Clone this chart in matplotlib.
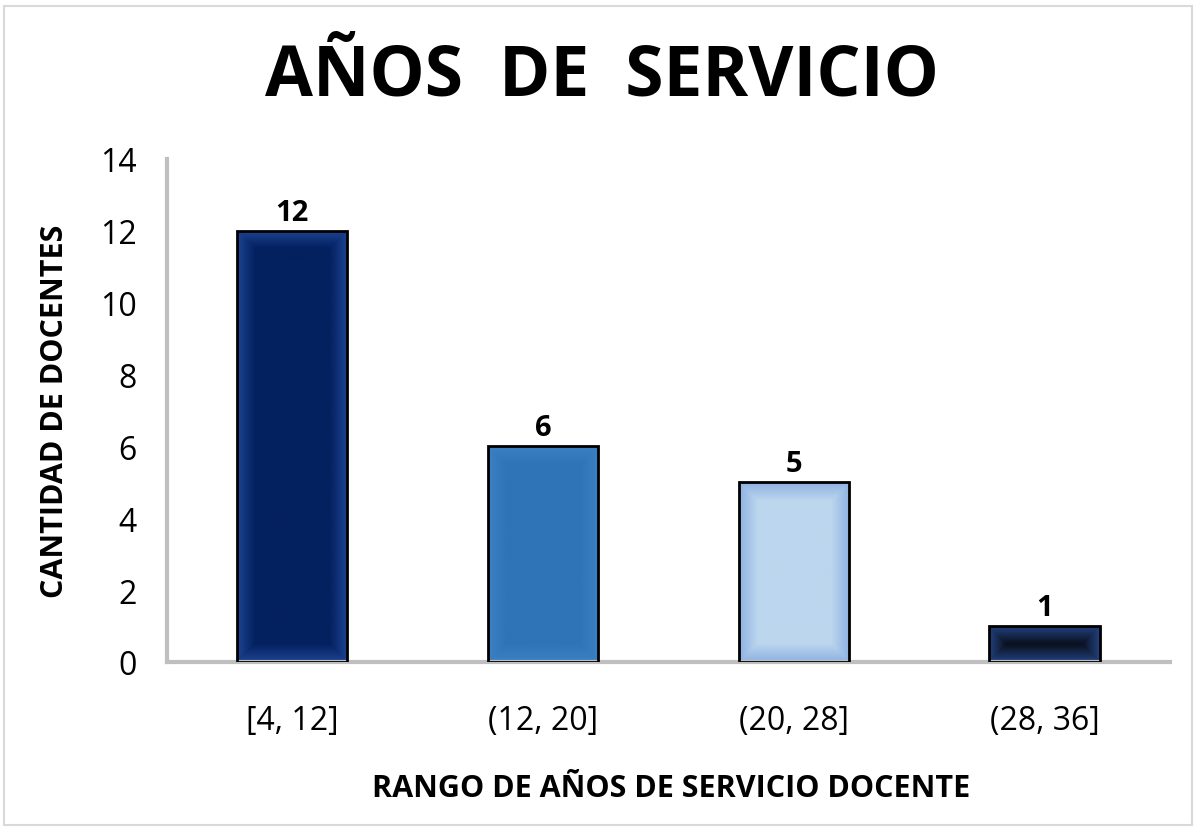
import numpy as np
import matplotlib
matplotlib.use('Agg')
from matplotlib import pyplot as plt
from matplotlib.patches import Rectangle

categories = ['[4, 12]', '(12, 20]', '(20, 28]', '(28, 36]']
values = [12, 6, 5, 1]
center_colors = ['#03205f', '#2e74b6', '#bcd6ee', '#080d18']
edge_colors = ['#1d4391', '#3a80c2', '#8eb1e2', '#22417e']

plt.rcParams['font.family'] = ['Open Sans', 'DejaVu Sans']


def hex_rgb(h):
    return np.array([int(h[i:i + 2], 16) / 255 for i in (1, 3, 5)])


def glow(center, edge, w_px, h_px):
    # colour goes from edge colour at the border to centre colour inside
    ys, xs = np.mgrid[0:h_px, 0:w_px]
    d = np.minimum(np.minimum(xs, w_px - 1 - xs), np.minimum(ys, h_px - 1 - ys))
    t = np.clip(d / 18.0, 0, 1)[..., None]
    c, e = hex_rgb(center), hex_rgb(edge)
    return e * (1 - t) + c * t


fig = plt.figure(figsize=(11.96, 8.28), dpi=100)
ax = fig.add_axes([0.1396, 0.1993, 0.8385, 0.6075])

width = 0.44
x = np.arange(len(categories))
bars = ax.bar(x, values, width=width, color='none', edgecolor='black',
              linewidth=2, zorder=3)

px_per_unit_y = 0.6075 * 828 / 14
px_per_unit_x = 0.8385 * 1196 / 4
for b, cc, ec in zip(bars, center_colors, edge_colors):
    x0, y0 = b.get_x(), b.get_y()
    w, h = b.get_width(), b.get_height()
    img = glow(cc, ec, int(w * px_per_unit_x), max(int(h * px_per_unit_y), 2))
    im = ax.imshow(img, extent=(x0, x0 + w, y0, y0 + h), aspect='auto',
                   origin='lower', zorder=2, interpolation='bilinear')
    im.set_clip_path(b)
    ax.text(x0 + w / 2, h + 0.12, str(int(h)), ha='center', va='bottom',
            fontsize=21, fontweight='bold')

ax.set_xlim(-0.5, 3.5)
ax.set_ylim(0, 14)
ax.set_yticks(range(0, 15, 2))
ax.set_xticks(x)
ax.set_xticklabels(categories)
ax.tick_params(axis='both', length=0, labelsize=23)
ax.tick_params(axis='x', pad=30)
ax.tick_params(axis='y', pad=22)

for s in ('top', 'right'):
    ax.spines[s].set_visible(False)
for s in ('left', 'bottom'):
    ax.spines[s].set_color('#bfbfbf')
    ax.spines[s].set_linewidth(3)

ax.set_xlabel('RANGO DE AÑOS DE SERVICIO DOCENTE', fontsize=22,
              fontweight='bold')
ax.set_ylabel('CANTIDAD DE DOCENTES', fontsize=22, fontweight='bold')
ax.xaxis.set_label_coords(0.503, -0.22)
ax.yaxis.set_label_coords(-0.097, 0.5)

fig.text(0.503, 0.907, 'AÑOS  DE  SERVICIO', ha='center', va='center',
         fontsize=50, fontweight='bold')

fig.patches.append(Rectangle((0.003, 0.003), 0.994, 0.989,
                             transform=fig.transFigure, fill=False,
                             edgecolor='#d9d9d9', linewidth=1.5))

fig.savefig('out.png', dpi=100)
